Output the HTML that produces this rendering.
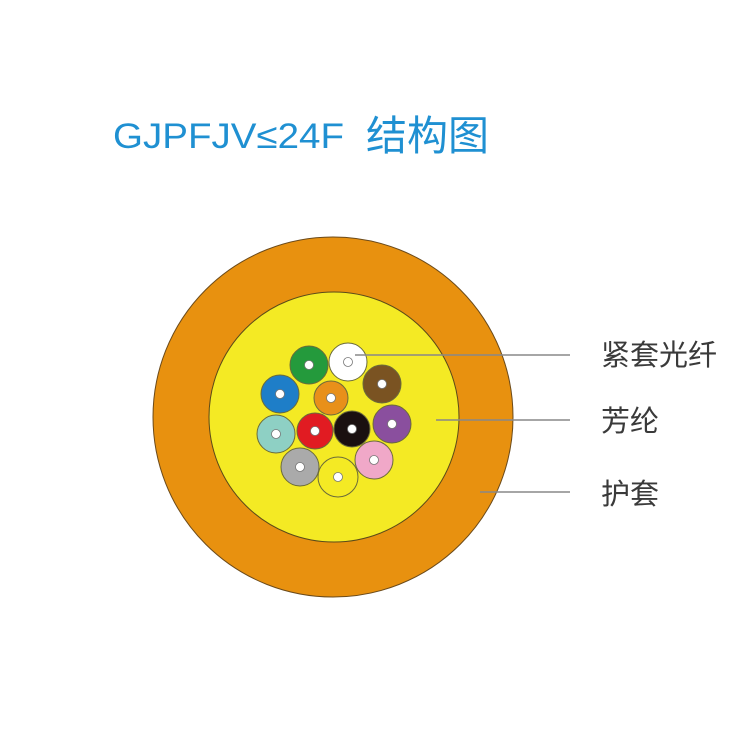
<!DOCTYPE html>
<html><head><meta charset="utf-8"><style>
html,body{margin:0;padding:0;background:#fff;}
</style></head><body>
<svg width="750" height="750" viewBox="0 0 750 750" xmlns="http://www.w3.org/2000/svg">
<rect width="750" height="750" fill="#fff"/>
<text x="113" y="148" font-family="Liberation Sans, sans-serif" font-size="35" fill="#1f90d2" textLength="231" lengthAdjust="spacingAndGlyphs">GJPFJV≤24F</text>
<text x="366" y="150" font-family="Noto Sans CJK SC, sans-serif" font-size="41" fill="#1f90d2">结构图</text>
<circle cx="333" cy="417" r="180" fill="#e8910f" stroke="#6b4a1a" stroke-width="1"/>
<circle cx="334" cy="417" r="125" fill="#f4ea24" stroke="#5a4a1a" stroke-width="1"/>
<g stroke="#6b6b3a" stroke-width="1">
<circle cx="309" cy="365" r="19" fill="#249a3c"/>
<circle cx="348" cy="362" r="19" fill="#ffffff"/>
<circle cx="382" cy="384" r="19" fill="#7a5322"/>
<circle cx="280" cy="394" r="19" fill="#1e7ec8"/>
<circle cx="331" cy="398" r="17" fill="#e8901a"/>
<circle cx="392" cy="424" r="19" fill="#8a4f9e"/>
<circle cx="352" cy="429" r="18" fill="#1a1010"/>
<circle cx="315" cy="431" r="18" fill="#e11b22"/>
<circle cx="276" cy="434" r="19" fill="#8ed0c4"/>
<circle cx="300" cy="467" r="19" fill="#aaaaaa"/>
<circle cx="374" cy="460" r="19" fill="#f0a8c8"/>
<circle cx="338" cy="477" r="20" fill="#f4ea24"/>
</g>
<g fill="#fff" stroke="#777" stroke-width="0.8">
<circle cx="309" cy="365" r="4.5"/>
<circle cx="348" cy="362" r="4.5"/>
<circle cx="382" cy="384" r="4.5"/>
<circle cx="280" cy="394" r="4.5"/>
<circle cx="331" cy="398" r="4.5"/>
<circle cx="392" cy="424" r="4.5"/>
<circle cx="352" cy="429" r="4.5"/>
<circle cx="315" cy="431" r="4.5"/>
<circle cx="276" cy="434" r="4.5"/>
<circle cx="300" cy="467" r="4.5"/>
<circle cx="374" cy="460" r="4.5"/>
<circle cx="338" cy="477" r="4.5"/>
</g>
<g stroke="#888" stroke-width="1.5">
<line x1="355" y1="355" x2="570" y2="355"/>
<line x1="436" y1="420" x2="570" y2="420"/>
<line x1="480" y1="492" x2="570" y2="492"/>
</g>
<g font-family="Liberation Sans, Noto Sans CJK SC, sans-serif" font-size="29" fill="#3a3a3a">
<text x="601" y="365">紧套光纤</text>
<text x="601" y="431">芳纶</text>
<text x="601" y="504">护套</text>
</g>
</svg>
</body></html>
